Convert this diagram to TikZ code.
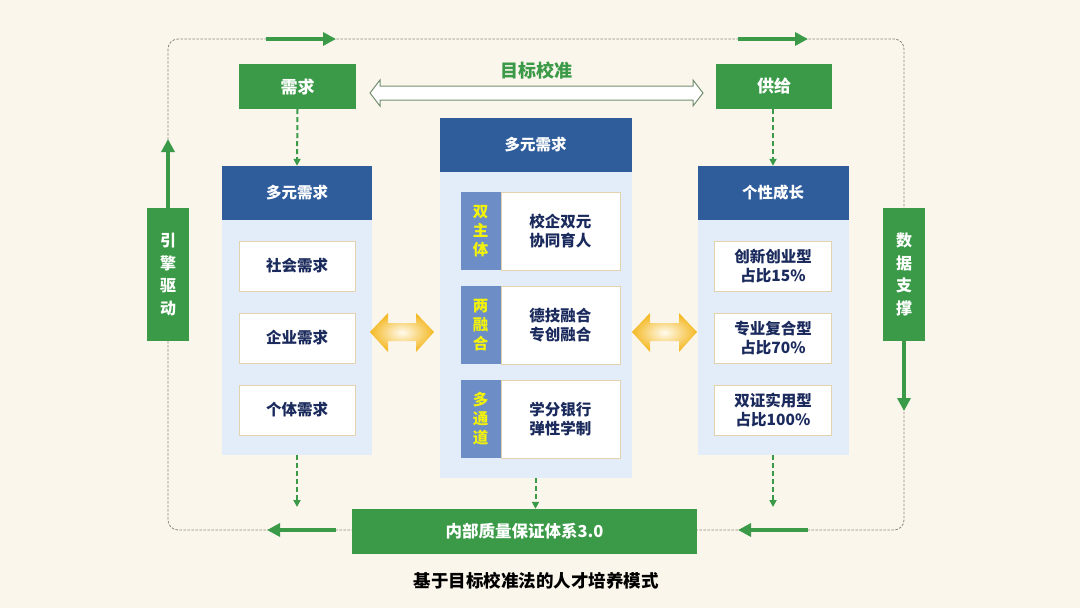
\documentclass[tikz,border=0pt]{standalone}
\usepackage{fontspec}
\setmainfont{Noto Sans CJK SC}
\usetikzlibrary{arrows.meta}
\definecolor{bgc}{HTML}{FBF6EC}
\definecolor{gr}{HTML}{3A9A47}
\definecolor{hb}{HTML}{2F5D9B}
\definecolor{pb}{HTML}{E3ECF9}
\definecolor{lb}{HTML}{6C8DC6}
\definecolor{yt}{HTML}{F2F20A}
\definecolor{nv}{HTML}{1B2A5C}
\definecolor{tan}{HTML}{E2D2AE}
\definecolor{lg}{HTML}{8A8A80}
\definecolor{ya}{HTML}{F4B823}
\definecolor{yl}{HTML}{FFFBEE}
\tikzset{
  fs/.style={font=\bfseries\fontsize{#1pt}{\dimexpr #1pt*6/5\relax}\selectfont},
  gbox/.style={fill=gr, text=white, inner sep=0pt, fs=17},
  headbox/.style={fill=hb, text=white, inner sep=0pt, minimum height=54pt, fs=15.5},
  panelbox/.style={fill=pb, inner sep=0pt},
  itembox/.style={fill=white, draw=tan, line width=0.8pt, text=nv, inner sep=0pt, align=center, font=\bfseries\fontsize{15.5pt}{18.5pt}\selectfont},
  lblbox/.style={fill=lb, text=yt, inner sep=0pt, align=center, minimum width=40pt, minimum height=78pt, font=\bfseries\fontsize{15.5pt}{19pt}\selectfont},
  vbox/.style={fill=gr, text=white, inner sep=0pt, align=center, minimum width=42pt, minimum height=133pt, font=\bfseries\fontsize{16pt}{22.5pt}\selectfont},
  gdash/.style={draw=gr, line width=2pt, dash pattern=on 5pt off 3pt, -{Triangle[width=7pt,length=7pt]}},
  garrow/.style={draw=gr, line width=4.5pt, -{Triangle[width=13pt,length=13pt]}},
  yshade/.style={inner color=yl, outer color=ya},
}
\begin{document}
\begin{tikzpicture}[x=1pt,y=-1pt]
\fill[bgc] (0,0) rectangle (1080,608);
\useasboundingbox (0,0) rectangle (1080,608);
% dashed loop
\draw[lg, line width=0.8pt, dash pattern=on 2.5pt off 1.5pt, rounded corners=10pt] (168,39) rectangle (904,530);
% top / bottom arrows on loop
\coordinate (t1s) at (266,39); \coordinate (t1e) at (336,39);
\coordinate (t2s) at (738,39); \coordinate (t2e) at (808,39);
\coordinate (b1s) at (336,530); \coordinate (b1e) at (267,530);
\coordinate (b2s) at (808,530); \coordinate (b2e) at (738,530);
\draw[garrow] (t1s) -- (t1e);
\draw[garrow] (t2s) -- (t2e);
% side boxes
\node[vbox] (yq) at (168,274.5) {引\\擎\\驱\\动};
\node[vbox] (sj) at (904,274.5) {数\\据\\支\\撑};
\coordinate (yqt) at (168,139);
\coordinate (sjb) at (904,411);
\draw[garrow] (yq.north) -- (yqt);
\draw[garrow] (sj.south) -- (sjb);
% top boxes
\node[gbox, minimum width=117pt, minimum height=45pt] (xq) at (297.5,86.5) {需求};
\node[gbox, minimum width=116pt, minimum height=45pt] (gj) at (774,86.5) {供给};
\node[text=gr, fs=18, inner sep=0pt] (mb) at (536,71) {目标校准};
% hollow double arrow
\draw[fill=white, draw=lg!70!gr, line width=1pt, line join=miter]
  (370,93) -- (380,80) -- (380,86) -- (693,86) -- (693,80) -- (703,93)
  -- (693,106) -- (693,100) -- (380,100) -- (380,106) -- cycle;
% left panel
\node[panelbox, minimum width=150pt, minimum height=236pt] (lp) at (297,337) {};
\node[headbox, minimum width=150pt] (lh) at (297,193) {多元需求};
\node[itembox, minimum width=116pt, minimum height=50pt] (l1) at (297,266) {社会需求};
\node[itembox, minimum width=116pt, minimum height=50pt] (l2) at (297,338) {企业需求};
\node[itembox, minimum width=116pt, minimum height=50pt] (l3) at (297,410) {个体需求};
% center panel
\node[panelbox, minimum width=192pt, minimum height=306pt] (cp) at (535.5,325) {};
\node[headbox, minimum width=192pt] (ch) at (535.5,145) {多元需求};
\node[lblbox] (c1l) at (480.5,231) {双\\主\\体};
\node[itembox, minimum width=119pt, minimum height=78pt, anchor=west] (c1) at (500.5,231) {校企双元\\协同育人};
\node[lblbox] (c2l) at (480.5,325) {两\\融\\合};
\node[itembox, minimum width=119pt, minimum height=78pt, anchor=west] (c2) at (500.5,325) {德技融合\\专创融合};
\node[lblbox] (c3l) at (480.5,419) {多\\通\\道};
\node[itembox, minimum width=119pt, minimum height=78pt, anchor=west] (c3) at (500.5,419) {学分银行\\弹性学制};
% right panel
\node[panelbox, minimum width=151pt, minimum height=236pt] (rp) at (773,337) {};
\node[headbox, minimum width=151pt] (rh) at (773,193) {个性成长};
\node[itembox, minimum width=117pt, minimum height=50pt] (r1) at (773,266) {创新创业型\\占比15\%};
\node[itembox, minimum width=117pt, minimum height=50pt] (r2) at (773,338) {专业复合型\\占比70\%};
\node[itembox, minimum width=117pt, minimum height=50pt] (r3) at (773,410) {双证实用型\\占比100\%};
% yellow double arrows
\shade[yshade] (370,332) -- (388,313) -- (388,323) -- (416,323) -- (416,313) -- (434,332)
  -- (416,352) -- (416,341) -- (388,341) -- (388,352) -- cycle;
\shade[yshade] (632,332) -- (650,313) -- (650,323) -- (679,323) -- (679,313) -- (697,332)
  -- (679,352) -- (679,341) -- (650,341) -- (650,352) -- cycle;
% bottom box
\node[gbox, minimum width=345pt, minimum height=45pt, fs=16.5] (nb) at (524.5,531.5) {内部质量保证体系3.0};
\draw[garrow] (b1s) -- (b1e);
\draw[garrow] (b2s) -- (b2e);
% dashed connectors
\draw[gdash] (xq.south) -- (lh.north);
\draw[gdash] (gj.south -| rh.north) -- (rh.north);
\coordinate (le) at (297,507);
\coordinate (re) at (773,507);
\draw[gdash] (lp.south) -- (le);
\draw[gdash] (cp.south) -- (cp.south |- nb.north);
\draw[gdash] (rp.south) -- (re);
% caption
\node[text=black, fs=17.5, inner sep=0pt] (cap) at (536,581) {基于目标校准法的人才培养模式};
\end{tikzpicture}
\end{document}
